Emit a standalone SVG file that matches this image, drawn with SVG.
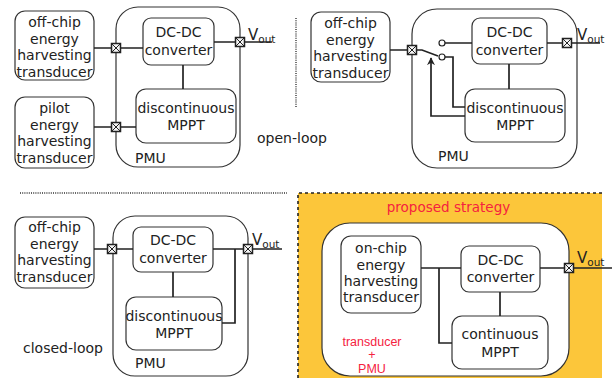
<svg xmlns="http://www.w3.org/2000/svg" width="612" height="378" viewBox="0 0 612 378">
<defs>
<style>
.box{fill:#fff;stroke:#333;stroke-width:1.2}
.ln{fill:none;stroke:#222;stroke-width:1.7}
.t{font-family:"DejaVu Sans",sans-serif;font-size:14px;fill:#222;text-anchor:middle}
.tl{font-family:"DejaVu Sans",sans-serif;font-size:14px;fill:#222}
.v{font-family:"DejaVu Sans",sans-serif;font-size:15px;fill:#222}
.sub{font-size:10.5px}
.red{font-family:"DejaVu Sans",sans-serif;font-size:13.5px;fill:#f5223f;text-anchor:middle}
.redA{font-family:"Liberation Sans",Arial,sans-serif;font-size:12.5px;fill:#f5223f;text-anchor:middle}
.sep{fill:none;stroke:#333;stroke-width:1.4;stroke-dasharray:1,1.2}
</style>
<g id="conn">
<rect x="-4.5" y="-4.5" width="9" height="9" fill="#f4f4f4" stroke="#222" stroke-width="1.5"/>
<path d="M-4.5,-4.5L4.5,4.5M4.5,-4.5L-4.5,4.5" stroke="#222" stroke-width="1"/>
</g>
<marker id="arr" viewBox="0 0 10 10" refX="9" refY="5" markerWidth="8" markerHeight="8" orient="auto" markerUnits="userSpaceOnUse">
<path d="M0,0L10,5L0,10L3,5Z" fill="#222"/>
</marker>
</defs>

<!-- background panel 4 -->
<g id="proposed-bg">
<rect x="298" y="193" width="304" height="190" fill="#fcc63a"/>
<path d="M298,378V193H602" fill="none" stroke="#222" stroke-width="1.6" stroke-dasharray="3,3"/>
<text class="red" x="448.5" y="212">proposed strategy</text>
</g>

<!-- separators -->
<g id="separators">
<line class="sep" x1="296" y1="18" x2="296" y2="108"/>
<line class="sep" x1="20" y1="193" x2="287" y2="193"/>
</g>

<!-- Panel 1 -->
<g id="p1-pmu"><rect class="box" x="116" y="7" width="124" height="160" rx="22"/><text class="tl" x="135" y="163">PMU</text></g>
<g id="p1-offchip"><rect class="box" x="15" y="11" width="79" height="69" rx="10"/>
<text class="t" x="54.5" y="27">off-chip</text><text class="t" x="54.5" y="43.5">energy</text><text class="t" x="54.5" y="60">harvesting</text><text class="t" x="54.5" y="76.5">transducer</text></g>
<g id="p1-pilot"><rect class="box" x="15" y="97" width="79" height="71" rx="10"/>
<text class="t" x="54.5" y="113">pilot</text><text class="t" x="54.5" y="129.5">energy</text><text class="t" x="54.5" y="146">harvesting</text><text class="t" x="54.5" y="162.5">transducer</text></g>
<g id="p1-dcdc"><rect class="box" x="143" y="18" width="71" height="47" rx="8"/>
<text class="t" x="178.5" y="37">DC-DC</text><text class="t" x="178.5" y="55">converter</text></g>
<g id="p1-mppt"><rect class="box" x="136" y="89" width="100" height="54" rx="10"/>
<text class="t" x="186" y="113">discontinuous</text><text class="t" x="186" y="130">MPPT</text></g>
<g id="p1-vout"><text class="v" x="248" y="40">V<tspan class="sub" dy="3">out</tspan></text></g>
<text class="tl" x="257" y="143">open-loop</text>

<!-- Panel 2 -->
<g id="p2-pmu"><rect class="box" x="412" y="9" width="165" height="159" rx="25"/><text class="tl" x="438" y="161">PMU</text></g>
<g id="p2-offchip"><rect class="box" x="311" y="12" width="79" height="70" rx="10"/>
<text class="t" x="350.5" y="28">off-chip</text><text class="t" x="350.5" y="44.5">energy</text><text class="t" x="350.5" y="61">harvesting</text><text class="t" x="350.5" y="77.5">transducer</text></g>
<g id="p2-dcdc"><rect class="box" x="472" y="18" width="75" height="46" rx="8"/>
<text class="t" x="509.5" y="37">DC-DC</text><text class="t" x="509.5" y="55">converter</text></g>
<g id="p2-mppt"><rect class="box" x="465" y="89" width="100" height="53" rx="10"/>
<text class="t" x="515" y="113">discontinuous</text><text class="t" x="515" y="130">MPPT</text></g>
<g id="p2-vout"><text class="v" x="577" y="40">V<tspan class="sub" dy="3">out</tspan></text></g>

<!-- Panel 3 -->
<g id="p3-pmu"><rect class="box" x="113" y="216" width="135" height="160" rx="22"/><text class="tl" x="135" y="368">PMU</text></g>
<g id="p3-offchip"><rect class="box" x="15" y="217" width="79" height="71" rx="10"/>
<text class="t" x="54.5" y="232">off-chip</text><text class="t" x="54.5" y="248.5">energy</text><text class="t" x="54.5" y="265">harvesting</text><text class="t" x="54.5" y="281.5">transducer</text></g>
<g id="p3-dcdc"><rect class="box" x="133" y="227" width="80" height="45" rx="8"/>
<text class="t" x="173" y="245">DC-DC</text><text class="t" x="173" y="263">converter</text></g>
<g id="p3-mppt"><rect class="box" x="126" y="297" width="96" height="53" rx="10"/>
<text class="t" x="174" y="321">discontinuous</text><text class="t" x="174" y="338">MPPT</text></g>
<g id="p3-vout"><text class="v" x="252" y="245">V<tspan class="sub" dy="3">out</tspan></text></g>
<text class="tl" x="23" y="353">closed-loop</text>

<!-- Panel 4 -->
<g id="p4-pmu"><rect class="box" x="322" y="223" width="247" height="153" rx="28"/>
<text class="redA" x="372" y="346">transducer</text><text class="redA" x="372" y="359" font-size="11">+</text><text class="redA" x="372" y="373">PMU</text></g>
<g id="p4-onchip"><rect class="box" x="341" y="236" width="80" height="77" rx="10"/>
<text class="t" x="381" y="253">on-chip</text><text class="t" x="381" y="270">energy</text><text class="t" x="381" y="286">harvesting</text><text class="t" x="381" y="302">transducer</text></g>
<g id="p4-dcdc"><rect class="box" x="461" y="246" width="79" height="46" rx="8"/>
<text class="t" x="500.5" y="265">DC-DC</text><text class="t" x="500.5" y="282">converter</text></g>
<g id="p4-mppt"><rect class="box" x="452" y="316" width="96" height="53" rx="10"/>
<text class="t" x="500" y="339">continuous</text><text class="t" x="500" y="357">MPPT</text></g>
<g id="p4-vout"><text class="v" x="577" y="263">V<tspan class="sub" dy="3">out</tspan></text></g>

<!-- connectors -->
<g id="connectors">
<path class="ln" d="M94,48H143M94,127H136M183,65V89M214,42H272"/>
<path class="ln" d="M390,50H422L438,56M445,43H472M445,57H453V107H465M509,64V89M547,43H600"/>
<path class="ln" d="M465,116H431V58" marker-end="url(#arr)"/>
<circle cx="442" cy="43" r="3" fill="#fff" stroke="#222" stroke-width="1.2"/>
<circle cx="442" cy="57" r="3" fill="#fff" stroke="#222" stroke-width="1.2"/>
<path class="ln" d="M94,249H133M213,249H282M235,249V323H222M173,272V297"/>
<path class="ln" d="M421,268H461M439,268V343H452M500,292V316M540,268H612"/>
<use href="#conn" x="116" y="48"/>
<use href="#conn" x="116" y="127"/>
<use href="#conn" x="240" y="42"/>
<use href="#conn" x="412" y="50"/>
<use href="#conn" x="567" y="43"/>
<use href="#conn" x="112" y="249"/>
<use href="#conn" x="248" y="249"/>
<use href="#conn" x="569" y="268"/>
</g>
</svg>
